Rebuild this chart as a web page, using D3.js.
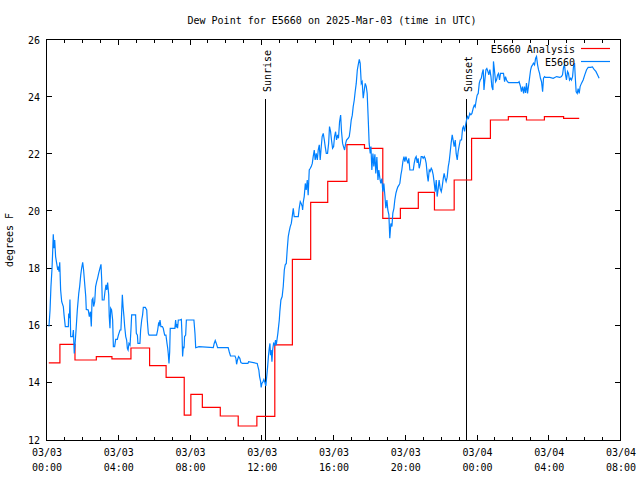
<!DOCTYPE html>
<html><head><meta charset="utf-8">
<script src="https://cdn.jsdelivr.net/npm/d3@7"></script>
<style>
body{margin:0;background:#fff}
svg{display:block}
text{font-family:"DejaVu Sans Mono","Liberation Mono",monospace;font-size:10px;fill:#000}
</style>
</head><body>
<svg id="chart" width="640" height="480"></svg>
<script>
// ---------- data ----------
const title = "Dew Point for E5660 on 2025-Mar-03 (time in UTC)";
const yLabel = "degrees F";
const seriesNames = ["E5660 Analysis", "E5660"];
const seriesColors = ["#ff0000", "#0080ff"];
const yTicks = [12, 14, 16, 18, 20, 22, 24, 26];
const startUTC = Date.UTC(2025, 2, 3, 0, 0);
const spanHours = 32;
const sunLabels = ["Sunrise", "Sunset"];
const sunHours = [12.17, 23.36];

// Analysis: [hour since 03/03 00:00, value] — step starts
const analysis = [
  [0.1,14.7],[0.72,15.35],[1.56,14.8],[2.75,14.92],[3.62,14.84],[4.68,15.22],[5.72,14.6],
  [6.64,14.19],[7.65,12.87],[8.02,13.6],[8.66,13.14],[9.66,12.84],[10.66,12.49],[11.7,12.83],
  [12.7,15.33],[13.68,18.32],[14.7,20.32],[15.65,21.05],[16.72,22.34],[17.7,22.21],[18.72,19.76],
  [19.7,20.11],[20.7,20.67],[21.6,20.05],[22.7,21.1],[23.67,22.56],[24.72,23.2],[25.72,23.32],
  [26.73,23.2],[27.73,23.32],[28.8,23.26],[29.67,23.26]
];

// Observations: [hour since 03/03 00:00, value]
const e5660 = [
  [0.11,15.97],[0.17,16.55],[0.22,17.37],[0.28,18.01],[0.32,18.65],[0.35,19.2],[0.39,18.71],[0.43,19.0],
  [0.48,18.42],[0.54,18.18],[0.6,17.95],[0.63,18.07],[0.67,17.89],[0.71,18.22],[0.76,17.25],[0.82,16.84],
  [0.91,16.67],[0.95,16.38],[1.02,15.97],[1.19,15.97],[1.21,16.43],[1.25,16.26],[1.28,16.92],[1.32,15.62],
  [1.43,15.62],[1.47,15.85],[1.52,15.03],[1.58,15.5],[1.62,15.85],[1.69,16.55],[1.77,17.13],[1.82,17.37],
  [1.88,17.77],[1.93,18.01],[1.99,18.22],[2.04,17.95],[2.1,17.48],[2.16,17.02],[2.19,16.57],[2.3,16.55],
  [2.36,16.32],[2.42,16.49],[2.47,15.97],[2.51,16.9],[2.56,16.96],[2.6,16.67],[2.66,16.84],[2.71,17.37],
  [2.77,17.54],[2.82,17.66],[2.88,17.83],[2.95,18.01],[3.01,18.15],[3.05,17.6],[3.08,16.9],[3.18,16.9],
  [3.23,17.19],[3.29,17.43],[3.33,17.25],[3.38,17.51],[3.44,17.08],[3.47,16.32],[3.51,15.91],[3.55,16.61],
  [3.6,16.55],[3.66,16.2],[3.7,15.27],[3.77,15.27],[3.83,15.52],[3.92,15.52],[3.98,15.67],[4.07,15.85],
  [4.12,15.85],[4.16,16.43],[4.2,17.08],[4.24,16.67],[4.29,16.32],[4.33,15.97],[4.39,15.62],[4.44,15.5],
  [4.48,15.21],[4.52,15.15],[4.57,15.38],[4.63,15.32],[4.68,15.85],[4.72,16.38],[4.94,16.38],[4.98,15.73],
  [5.04,15.67],[5.07,15.38],[5.18,15.38],[5.22,15.85],[5.28,16.2],[5.33,16.38],[5.37,16.64],[5.48,16.64],
  [5.56,16.55],[5.59,16.2],[5.65,15.73],[5.69,15.67],[6.11,15.67],[6.17,15.85],[6.22,16.08],[6.26,16.03],
  [6.3,16.2],[6.35,15.97],[6.43,15.97],[6.48,15.91],[6.56,15.67],[6.63,15.67],[6.69,15.38],[6.73,15.21],
  [6.76,15.03],[6.8,14.68],[6.84,15.09],[6.87,15.91],[7.13,15.91],[7.17,16.2],[7.21,15.94],[7.25,16.06],
  [7.28,15.91],[7.32,16.2],[7.41,16.2],[7.49,16.22],[7.53,15.62],[7.56,14.92],[7.6,15.27],[7.64,15.21],
  [7.67,15.62],[7.73,15.67],[7.77,16.2],[8.19,16.2],[8.25,15.73],[8.29,15.23],[8.47,15.27],
  [9.27,15.23],[9.32,15.38],[9.38,15.48],[9.44,15.38],[9.51,15.23],[10.1,15.23],[10.16,15.09],[10.23,14.94],
  [10.48,14.94],[10.53,14.86],[10.57,14.65],[10.62,14.8],[10.68,14.92],[10.75,14.86],[10.81,14.71],[10.9,14.68],
  [11.2,14.68],[11.24,14.74],[11.72,14.68],[11.76,14.57],[11.81,14.45],[11.85,14.22],[11.91,14.04],[11.94,13.84],
  [11.98,13.98],[12.04,14.04],[12.09,14.12],[12.15,14.01],[12.2,13.89],[12.24,14.16],[12.3,14.57],[12.35,14.97],
  [12.39,15.21],[12.43,15.38],[12.46,14.97],[12.5,15.15],[12.54,14.74],[12.58,15.15],[12.63,15.38],[12.69,15.32],
  [12.74,15.5],[12.78,15.32],[12.82,15.5],[12.87,15.73],[12.91,15.97],[12.95,16.2],[12.98,16.49],[13.04,16.9],
  [13.11,17.02],[13.17,17.37],[13.23,17.95],[13.28,18.13],[13.34,18.18],[13.39,18.65],[13.45,19.12],[13.5,19.29],
  [13.56,19.47],[13.62,19.58],[13.67,19.82],[13.73,20.11],[13.78,19.82],[14.01,19.82],[14.06,20.11],[14.12,20.34],
  [14.17,20.28],[14.23,20.17],[14.25,20.05],[14.29,20.34],[14.34,20.52],[14.4,20.98],[14.45,20.75],[14.51,21.1],
  [14.56,20.57],[14.62,21.45],[14.68,21.51],[14.73,21.57],[14.79,21.68],[14.84,21.92],[14.9,22.15],[14.95,21.8],
  [15.01,22.03],[15.07,21.8],[15.12,22.15],[15.18,22.33],[15.23,21.8],[15.29,22.27],[15.34,22.62],[15.4,22.73],
  [15.46,22.5],[15.51,22.27],[15.57,22.03],[15.64,22.03],[15.7,22.38],[15.75,22.97],[15.81,22.79],[15.86,22.5],
  [15.92,22.21],[15.98,22.27],[16.03,22.62],[16.09,22.79],[16.14,22.5],[16.2,22.68],[16.25,22.56],[16.31,23.14],
  [16.37,23.37],[16.42,22.79],[16.48,22.38],[16.53,22.27],[16.59,22.15],[16.65,22.38],[16.7,22.5],[16.79,22.56],
  [16.85,22.62],[16.9,22.85],[16.96,23.2],[17.02,23.37],[17.07,23.67],[17.13,23.9],[17.18,24.19],[17.24,24.48],
  [17.3,24.95],[17.35,25.13],[17.41,25.32],[17.46,25.18],[17.52,24.48],[17.57,24.54],[17.63,23.96],[17.69,24.25],
  [17.74,24.48],[17.8,24.37],[17.85,24.13],[17.91,23.2],[17.96,22.38],[18.02,22.03],
  [18.06,22.27],[18.11,21.45],[18.17,22.03],[18.22,21.57],[18.28,22.0],[18.33,21.33],[18.39,21.9],[18.45,21.1],
  [18.5,21.45],[18.56,21.15],[18.61,20.98],[18.67,21.15],[18.72,20.69],[18.78,20.98],[18.84,20.52],[18.89,20.11],
  [18.95,20.4],[19.0,20.05],[19.06,19.88],[19.11,19.06],[19.17,19.58],[19.23,19.47],[19.28,19.94],[19.34,20.11],
  [19.39,20.4],[19.45,20.63],[19.5,20.75],[19.56,20.86],[19.62,20.92],[19.67,20.98],[19.73,21.28],[19.78,21.45],
  [19.84,21.74],[19.9,21.92],[19.95,21.74],[20.01,21.92],[20.06,21.8],[20.12,21.68],[20.17,21.86],[20.23,21.45],
  [20.42,21.45],[20.47,21.68],[20.53,21.86],[20.58,21.92],[20.64,21.7],[20.69,21.86],[20.75,21.51],[20.81,21.68],
  [20.86,21.92],[20.92,21.92],[20.97,21.86],[21.03,21.92],[21.08,21.86],[21.14,21.68],[21.2,21.28],[21.25,21.05],
  [21.31,21.45],[21.36,21.4],[21.42,21.51],[21.47,21.45],[21.53,21.28],[21.59,20.98],[21.64,20.69],[21.7,21.1],
  [21.75,20.52],[21.81,20.8],[21.86,21.1],[21.92,20.8],[21.98,20.69],[22.03,20.86],[22.09,21.15],[22.14,21.33],
  [22.2,21.15],[22.25,21.05],[22.31,21.2],[22.37,21.57],[22.42,21.74],[22.48,22.09],[22.53,22.39],[22.59,22.68],
  [22.64,22.5],[22.7,22.27],[22.76,22.5],[22.81,22.03],[22.87,21.8],[22.92,22.09],[22.98,22.3],[23.04,22.5],
  [23.11,22.5],[23.17,22.91],[23.22,22.97],[23.28,22.8],[23.33,23.0],[23.39,23.2],[23.44,23.32],[23.5,23.26],
  [23.57,23.43],[23.63,23.38],[23.69,23.43],[23.76,23.61],[23.82,23.72],[23.87,23.66],[23.93,23.9],[23.98,24.07],
  [24.04,24.13],[24.1,24.49],[24.15,24.6],[24.21,24.66],[24.26,24.83],[24.32,24.97],[24.36,24.25],[24.41,24.6],
  [24.47,24.96],[24.52,25.0],[24.58,24.9],[24.63,24.78],[24.69,24.96],[24.75,24.72],[24.8,24.37],[24.86,24.25],
  [24.89,25.25],[24.95,24.9],[25.01,24.54],[25.06,24.6],[25.12,24.78],[25.17,24.83],[25.23,24.6],[25.28,24.83],
  [25.45,24.83],[25.51,24.54],[25.56,24.72],[25.62,24.6],[25.67,24.54],[25.73,24.51],[26.27,24.51],[26.32,24.54],
  [26.4,24.37],[26.45,24.19],[26.51,24.37],[26.57,24.13],[26.62,24.37],[26.68,24.15],[26.73,24.49],[26.79,24.13],
  [26.84,24.37],[26.9,24.66],[26.96,24.95],[27.01,25.07],[27.07,25.13],[27.12,25.19],[27.18,25.13],[27.24,25.36],
  [27.29,25.42],[27.35,25.13],[27.4,24.96],[27.46,24.83],[27.51,24.66],[27.57,24.54],[27.63,24.19],[27.68,24.66],
  [27.74,24.72],[27.79,24.69],[28.03,24.69],[28.22,24.66],[28.41,24.72],[28.59,24.69],[28.68,24.72],[28.74,24.78],
  [28.8,25.06],[28.85,25.13],[28.91,24.78],[28.96,24.6],[29.02,24.9],[29.07,24.84],[29.13,24.6],[29.19,24.66],
  [29.24,24.6],[29.3,24.72],[29.35,25.06],[29.41,25.19],[29.46,24.6],[29.5,24.19],[29.56,24.13],[29.61,24.3],
  [29.67,24.13],[29.72,24.37],[29.8,24.49],[29.89,24.6],[29.98,24.78],[30.08,24.96],[30.17,25.04],[30.3,25.04],
  [30.41,25.06],[30.51,24.96],[30.6,24.9],[30.69,24.78],[30.78,24.66]
];

// ---------- drawing ----------
const svg = d3.select("#chart");
const L = 47, R = 621, T = 40, B = 440;
const hourToDate = h => new Date(startUTC + h * 3600e3);

const x = d3.scaleUtc().domain([hourToDate(0), hourToDate(spanHours)]).range([L, R]);
const y = d3.scaleLinear().domain([12, 26]).range([B, T]);

const g = svg.append("g");

// Title
g.append("text").attr("x", 332).attr("y", 24).attr("text-anchor", "middle").text(title);

// Y label
g.append("text").attr("transform", `translate(13,${(T + B) / 2}) rotate(-90)`)
  .attr("text-anchor", "middle").text(yLabel);

// Frame
g.append("rect").attr("x", L - 0.5).attr("y", T - 0.5).attr("width", R - L).attr("height", B - T + 0.5)
  .attr("fill", "none").attr("stroke", "#000").attr("stroke-width", 1).attr("shape-rendering", "crispEdges");

// Y ticks & labels
yTicks.forEach(v => {
  const yy = Math.round(y(v)) - 0.5;
  if (v !== 12 && v !== 26) {
    g.append("line").attr("x1", L).attr("x2", L + 5).attr("y1", yy).attr("y2", yy)
      .attr("stroke", "#000").attr("shape-rendering", "crispEdges");
    g.append("line").attr("x1", R - 6).attr("x2", R - 1).attr("y1", yy).attr("y2", yy)
      .attr("stroke", "#000").attr("shape-rendering", "crispEdges");
  }
  g.append("text").attr("x", 40).attr("y", y(v)).attr("dy", "0.35em")
    .attr("text-anchor", "end").text(v);
});

// X ticks
const minorTicks = x.ticks(d3.utcHour.every(1));
const majorTicks = x.ticks(d3.utcHour.every(4));
minorTicks.forEach(d => {
  const isMajor = d.getUTCHours() % 4 === 0;
  const len = isMajor ? 5 : 3;
  const xx = Math.round(x(d)) - 0.5;
  if (x(d) <= L + 0.5 || x(d) >= R - 0.5) return;
  g.append("line").attr("x1", xx).attr("x2", xx).attr("y1", B).attr("y2", B - len)
    .attr("stroke", "#000").attr("shape-rendering", "crispEdges");
  g.append("line").attr("x1", xx).attr("x2", xx).attr("y1", T).attr("y2", T + len)
    .attr("stroke", "#000").attr("shape-rendering", "crispEdges");
});
const fmtDate = d3.utcFormat("%m/%d"), fmtTime = d3.utcFormat("%H:%M");
majorTicks.forEach(d => {
  const t = g.append("text").attr("x", x(d)).attr("y", 456).attr("text-anchor", "middle");
  t.append("tspan").attr("x", x(d)).text(fmtDate(d));
  t.append("tspan").attr("x", x(d)).attr("dy", 15).text(fmtTime(d));
});

// Sunrise / sunset
sunHours.forEach((h, i) => {
  const xx = Math.round(x(hourToDate(h))) + 0.5;
  g.append("line").attr("x1", xx).attr("x2", xx).attr("y1", 99).attr("y2", B)
    .attr("stroke", "#000").attr("shape-rendering", "crispEdges");
  g.append("text").attr("transform", `translate(${xx + 5},92) rotate(-90)`)
    .attr("text-anchor", "start").text(sunLabels[i]);
});

// Analysis (step)
const stepLine = d3.line().x(d => x(hourToDate(d[0]))).y(d => y(d[1])).curve(d3.curveStepAfter);
g.append("path").datum(analysis).attr("d", stepLine).attr("fill", "none")
  .attr("stroke", seriesColors[0]).attr("stroke-width", 1.2);

// Observations
const obsLine = d3.line().x(d => x(hourToDate(d[0]))).y(d => y(d[1]));
g.append("path").datum(e5660).attr("d", obsLine).attr("fill", "none")
  .attr("stroke", seriesColors[1]).attr("stroke-width", 1.2).attr("stroke-linejoin", "miter");

// Legend
const legendY = [49, 62];
seriesNames.forEach((name, i) => {
  g.append("text").attr("x", 575).attr("y", legendY[i]).attr("dy", "0.35em")
    .attr("text-anchor", "end").text(name);
  g.append("line").attr("x1", 581).attr("x2", 610).attr("y1", legendY[i] - 0.5).attr("y2", legendY[i] - 0.5)
    .attr("stroke", seriesColors[i]).attr("stroke-width", 1.2);
});
</script>
</body></html>
